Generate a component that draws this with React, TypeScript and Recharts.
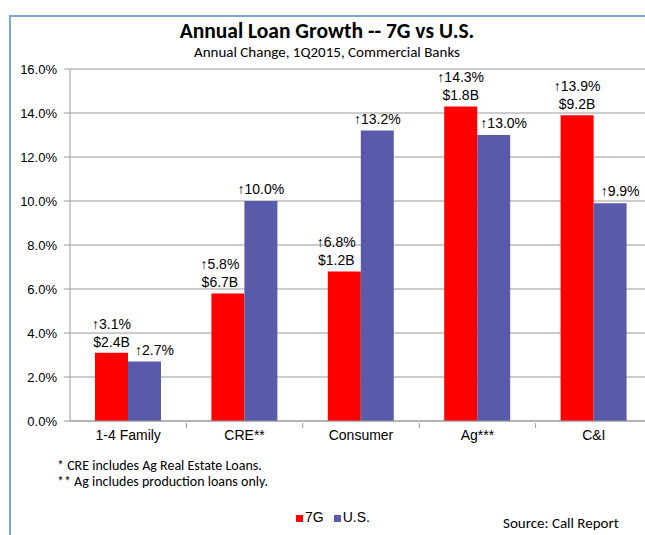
import { BarChart, Bar, XAxis, YAxis, CartesianGrid, Legend, LabelList } from "recharts";

const categories = ["1-4 Family", "CRE**", "Consumer", "Ag***", "C&I"];
const growth7G = [3.1, 5.8, 6.8, 14.3, 13.9];
const growthUS = [2.7, 10.0, 13.2, 13.0, 9.9];
const dollars7G = ["$2.4B", "$6.7B", "$1.2B", "$1.8B", "$9.2B"];
const yTicks = [0, 2, 4, 6, 8, 10, 12, 14, 16];
const footnotes = ["* CRE includes Ag Real Estate Loans.", "** Ag includes production loans only."];

const data = categories.map((name, i) => ({
  name,
  g7: growth7G[i],
  us: growthUS[i]
}));

const RED = "#FF0000";
const BLUE = "#5A5AAB";
const AXIS = "#9A9A9A";
const calibri = "Carlito, Lato, 'Open Sans', sans-serif";
const arial = "'Liberation Sans', Arial, sans-serif";

const W = 645;
const H = 535;
// plot area runs a little past the right edge of the picture
const chartW = 660;
const margin = { top: 69, right: 8, left: 0, bottom: 84 };
const yAxisWidth = 70;
const band = (chartW - margin.left - margin.right - yAxisWidth) / categories.length;

function CategoryTick(props: any) {
  const { x, y, payload } = props;
  return (
    <g>
      <line x1={x + band / 2} x2={x + band / 2} y1={y - 6} y2={y - 1} stroke={AXIS} />
      <text x={x} y={y + 11} textAnchor="middle" fontSize={14} fontFamily={arial} fill="#000">
        {payload.value}
      </text>
    </g>
  );
}

function RedLabel(props: any) {
  const { x, y, width, value, index } = props;
  // shift left when the U.S. bar beside it is taller
  const cx = x + width / 2 + (growthUS[index] > growth7G[index] ? -8 : 0);
  return (
    <g fontSize={14} fontFamily={arial} fill="#000" textAnchor="middle">
      <text x={cx} y={y - 24}>{"\u2191" + value.toFixed(1) + "%"}</text>
      <text x={cx} y={y - 6}>{dollars7G[index]}</text>
    </g>
  );
}

function BlueLabel(props: any) {
  const { x, y, width, value, index } = props;
  const cx = x + width / 2 + (growth7G[index] > growthUS[index] ? 10 : 0);
  return (
    <text x={cx} y={y - 7} fontSize={14} fontFamily={arial} fill="#000" textAnchor="middle">
      {"\u2191" + value.toFixed(1) + "%"}
    </text>
  );
}

export default function App() {
  return (
    <div style={{ position: "absolute", left: 0, top: 0, width: W, height: H, overflow: "hidden", background: "#fff" }}>
      <div
        style={{
          position: "absolute",
          left: 9,
          top: 15,
          width: W,
          height: H,
          borderLeft: "2px solid #7EA7D8",
          borderTop: "2px solid #7EA7D8"
        }}
      />
      <div
        style={{
          position: "absolute",
          left: 0,
          width: 654,
          top: 18,
          textAlign: "center",
          fontFamily: calibri,
          fontWeight: "bold",
          fontSize: 21.5,
          lineHeight: "26px",
          color: "#000"
        }}
      >
        Annual Loan Growth -- 7G vs U.S.
      </div>
      <div
        style={{
          position: "absolute",
          left: 0,
          width: 654,
          top: 43,
          textAlign: "center",
          fontFamily: calibri,
          fontSize: 15,
          lineHeight: "18px",
          color: "#000"
        }}
      >
        Annual Change, 1Q2015, Commercial Banks
      </div>
      <BarChart width={chartW} height={H} data={data} margin={margin} barGap={0} barSize={33}>
        <CartesianGrid vertical={false} stroke={AXIS} />
        <XAxis
          dataKey="name"
          stroke={AXIS}
          tickLine={false}
          tick={<CategoryTick />}
          height={30}
          interval={0}
        />
        <YAxis
          width={yAxisWidth}
          domain={[0, 16]}
          ticks={yTicks}
          stroke={AXIS}
          tickSize={6}
          tickMargin={7}
          tickFormatter={(v: number) => v.toFixed(1) + "%"}
          tick={{ fill: "#000", fontSize: 13, fontFamily: arial }}
        />
        <Legend
          verticalAlign="middle"
          align="center"
          layout="horizontal"
          iconType="square"
          iconSize={7}
          wrapperStyle={{ position: "absolute", top: 509, left: 296, width: "auto", fontFamily: arial, fontSize: 14 }}
          formatter={(value: string) => <span style={{ color: "#000", marginLeft: -2 }}>{value}</span>}
        />
        <Bar dataKey="g7" name="7G" fill={RED} isAnimationActive={false}>
          <LabelList dataKey="g7" content={<RedLabel />} />
        </Bar>
        <Bar dataKey="us" name="U.S." fill={BLUE} isAnimationActive={false}>
          <LabelList dataKey="us" content={<BlueLabel />} />
        </Bar>
      </BarChart>
      {footnotes.map((t, i) => (
        <div
          key={i}
          style={{
            position: "absolute",
            left: 57,
            top: 458 + i * 16,
            fontFamily: calibri,
            fontSize: 14,
            lineHeight: "16px",
            color: "#000",
            whiteSpace: "nowrap"
          }}
        >
          {t}
        </div>
      ))}
      <div
        style={{
          position: "absolute",
          left: 503,
          top: 514,
          fontFamily: calibri,
          fontSize: 15,
          lineHeight: "18px",
          color: "#000",
          whiteSpace: "nowrap"
        }}
      >
        Source: Call Report
      </div>
    </div>
  );
}
